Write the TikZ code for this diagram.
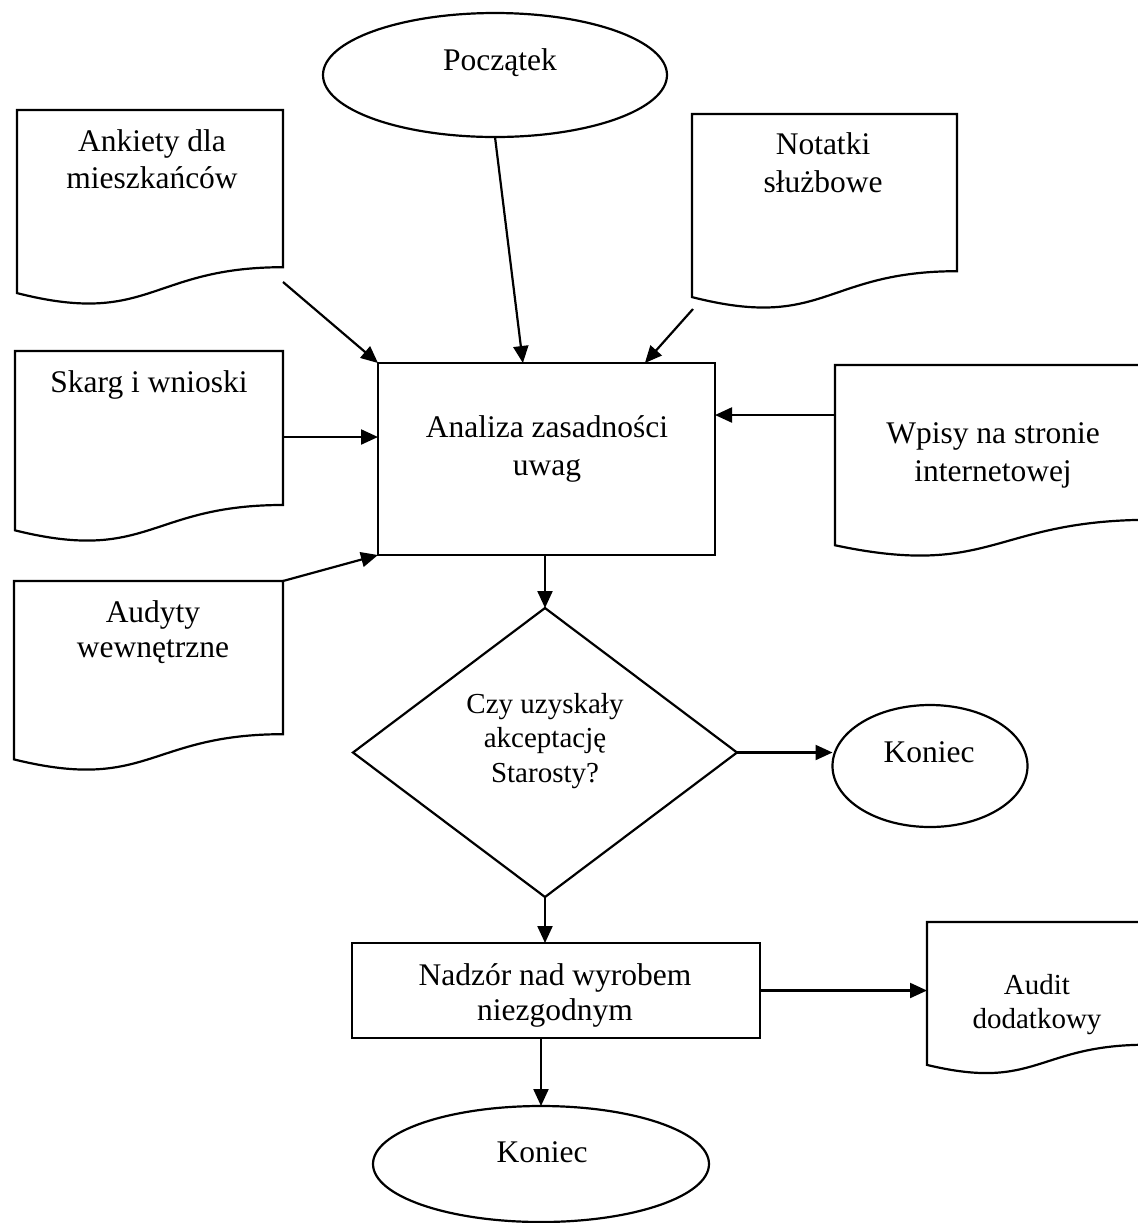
\documentclass[tikz,border=0pt]{standalone}
\usepackage{fontspec}
\setmainfont{Liberation Serif}
\usetikzlibrary{arrows.meta,shapes.geometric,calc}

% Outline of a "document" symbol drawn around an invisible frame node:
% straight top and sides, wavy bottom edge.
\newcommand\paperedge[1]{%
  \draw[outline] (#1.north west) -- (#1.north east)
    -- ($(#1.north east)!0.802!(#1.south east)$)
    .. controls ($(#1.north)!0.802!(#1.south)$) and ($(#1.north)!1.1075!(#1.south)$)
    .. ($(#1.north west)!0.934!(#1.south west)$) -- cycle;}

\begin{document}
\begin{tikzpicture}[x=0.5pt,y=-0.5pt,
  outline/.style={draw=black, line width=1.1pt, line join=miter},
  frame/.style={draw=none, rectangle, inner sep=0pt, outer sep=0pt},
  oval/.style={ellipse, draw, line width=1.1pt, inner sep=0pt, outer sep=0pt},
  stepbox/.style={rectangle, draw, line width=1.1pt, inner sep=0pt, outer sep=0pt},
  decision/.style={diamond, draw, line width=1.1pt, inner sep=0pt, outer sep=0pt},
  words/.style={align=center, inner sep=0pt, font=\fontsize{15.75pt}{#1}\selectfont},
  words/.default=18.75pt,
  smallwords/.style={align=center, inner sep=0pt, font=\fontsize{14.5pt}{#1}\selectfont},
  smallwords/.default=17.25pt,
  flow/.style={-{Triangle[length=8.5pt,width=7.5pt]}, line width=1.1pt},
]
\useasboundingbox (0,0) rectangle (1138,1223);
\fill[white] (0,0) rectangle (1138,1223);
\clip (0,0) rectangle (1138,1223);

% --- main flow ---
\node[oval, minimum width=172pt, minimum height=62pt] (poc) at (495,75) {};
\node[words] (pocT) at (500,63) {Początek};

\node[stepbox, minimum width=168.5pt, minimum height=96pt] (ana) at (546.5,459) {};
\node[words=19pt] (anaT) at (547,449) {Analiza zasadności\\uwag};

\node[decision, minimum width=192pt, minimum height=144.5pt] (dia) at (545,752.5) {};
\node[smallwords] (diaT) at (545,741) {Czy uzyskały\\akceptację\\Starosty?};

\node[oval, minimum width=97.5pt, minimum height=61pt] (kon1) at (930,766) {};
\node[words] (kon1T) at (929,752) {Koniec};

\node[stepbox, minimum width=204pt, minimum height=47.5pt] (nad) at (556,990.5) {};
\node[words=17.5pt] (nadT) at (555,995) {Nadzór nad wyrobem\\niezgodnym};

\node[oval, minimum width=168pt, minimum height=58pt] (kon2) at (541,1164) {};
\node[words] (kon2T) at (542,1152) {Koniec};

% --- input documents ---
\node[frame, minimum width=133pt, minimum height=98pt] (ank) at (150,208) {};
\paperedge{ank}
\node[words] (ankT) at (152,159) {Ankiety dla\\mieszkańców};

\node[frame, minimum width=132.5pt, minimum height=98pt] (nota) at (824.5,212) {};
\paperedge{nota}
\node[words] (notaT) at (823,162.5) {Notatki\\służbowe};

\node[frame, minimum width=134pt, minimum height=96pt] (skg) at (149,447) {};
\paperedge{skg}
\node[words] (skgT) at (149,384.5) {Skarg i wnioski};

\node[frame, minimum width=134.5pt, minimum height=95.5pt] (aud) at (148.5,676.5) {};
\paperedge{aud}
\node[words=17.5pt] (audT) at (153,632.5) {Audyty\\wewnętrzne};

\node[frame, minimum width=158pt, minimum height=96.5pt] (wp) at (993,461.5) {};
\paperedge{wp}
\node[words=19pt] (wpT) at (993,455) {Wpisy na stronie\\internetowej};

\node[frame, minimum width=110pt, minimum height=76.5pt] (add) at (1037,998.5) {};
\paperedge{add}
\node[smallwords=17pt] (addT) at (1037,1005) {Audit\\dodatkowy};

% --- free ends of the incoming connectors ---
\coordinate (ankout) at (283,282);
\coordinate (notaout) at (693,309);
\coordinate (skgout) at (283,437);
\coordinate (wpout) at (835,415);

% --- connectors ---
\draw[flow] (poc.south) -- ($(ana.north west)!0.43!(ana.north east)$);
\draw[flow] (ankout) -- (ana.north west);
\draw[flow] (notaout) -- ($(ana.north west)!0.792!(ana.north east)$);
\draw[flow] (skgout) -- (skgout -| ana.west);
\draw[flow] (aud.north east) -- (ana.south west);
\draw[flow] (wpout) -- (wpout -| ana.east);
\draw[flow] (dia.north |- ana.south) -- (dia.north);
\draw[flow] (dia.east) -- (dia.east -| kon1.west);
\draw[flow] (dia.south) -- (dia.south |- nad.north);
\draw[flow] (nad.east) -- (nad.east -| add.west);
\draw[flow] (kon2.north |- nad.south) -- (kon2.north);
\end{tikzpicture}
\end{document}
